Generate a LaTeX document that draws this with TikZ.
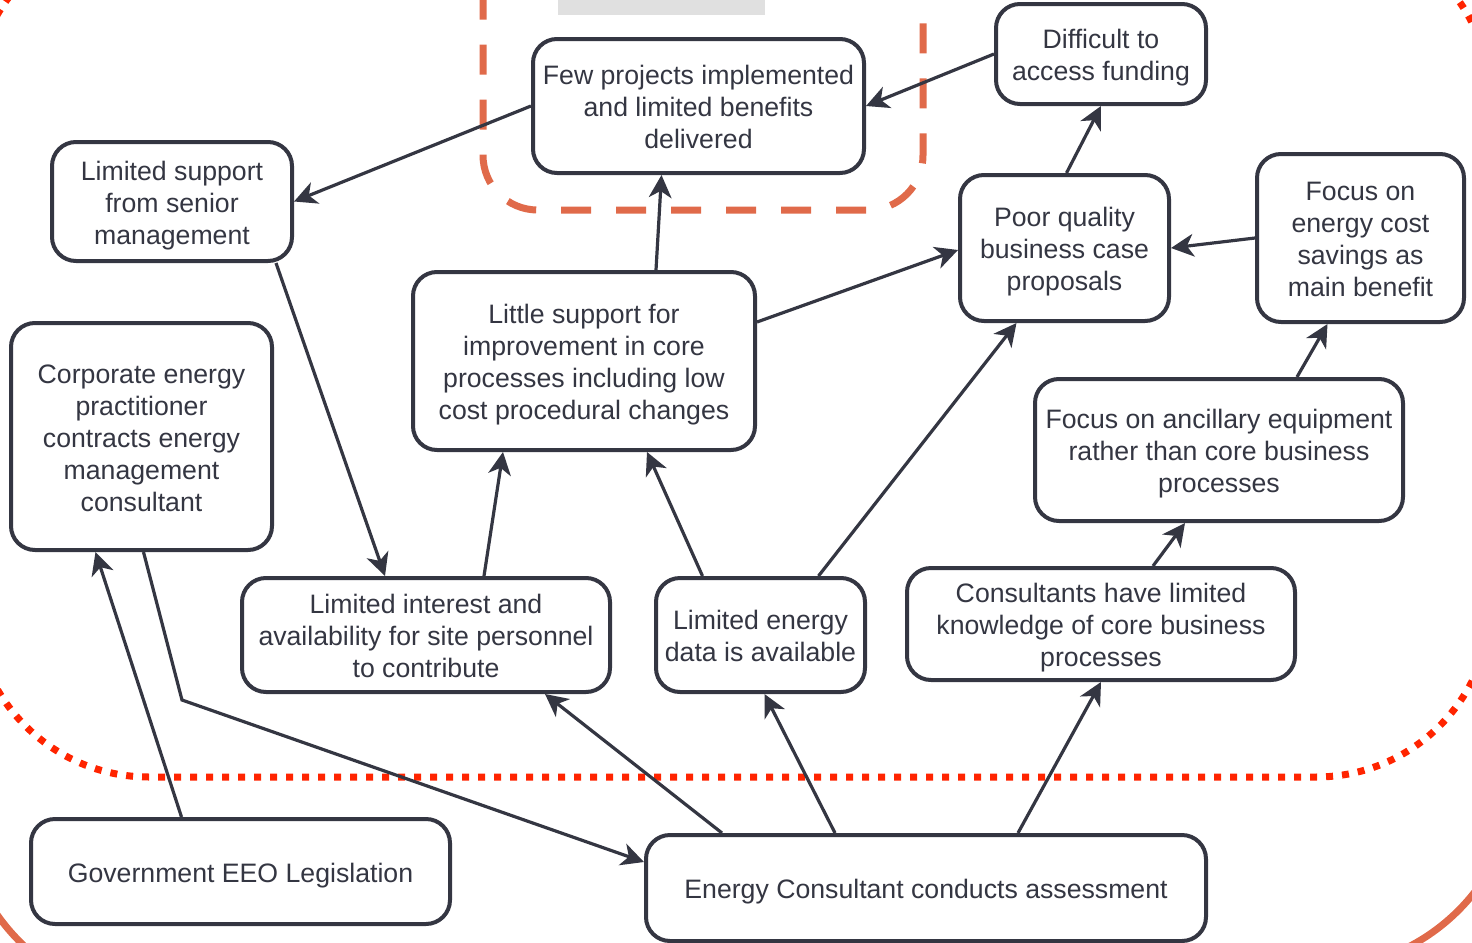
\documentclass[tikz,border=0pt]{standalone}
\usepackage{fontspec}
\setmainfont{Liberation Sans}
\usetikzlibrary{arrows.meta,calc}
\definecolor{ink}{RGB}{52,54,66}
\definecolor{coral}{RGB}{224,106,74}
\definecolor{signal}{RGB}{255,36,0}
\definecolor{band}{RGB}{224,224,224}
% centred stack of lines with a fixed row pitch
\newcommand\boxlines[1]{\begin{tabular}{@{}c@{}}\rule{0pt}{23.5pt}#1\end{tabular}}

\begin{document}
\begin{tikzpicture}[x=0.75pt,y=-0.75pt,
  box/.style={draw=ink, line width=3pt, rounded corners=18pt, fill=white,
    text=ink, inner sep=0pt, font=\fontsize{20}{24}\selectfont},
  link/.style={draw=ink, line width=2.4pt,
    -{Stealth[length=17pt,width=17pt,inset=5pt]}},
  dotline/.style={signal, line width=5.25pt, dash pattern=on 5.25pt off 6.75pt},
  dashline/.style={coral, line width=5.25pt, dash pattern=on 22.5pt off 18.75pt},
  rimline/.style={coral, line width=5.25pt},
]
\useasboundingbox (0,0) rectangle (1472,943);
\clip (0,0) rectangle (1472,943);

% background bands and outlines
\fill[band] (558,0) rectangle (765,15);
\draw[dotline, rounded corners=131.25pt] (-26,-73) rectangle (1491,777);
\draw[dashline, rounded corners=41pt] (483,-120) rectangle (923,210);
\draw[rimline] (-39,0) -- (-39,800)
  arc[start angle=180, end angle=90, radius=200]
  -- (1317,969)
  arc[start angle=90, end angle=0, radius=200]
  -- (1517,0);

% boxes
\node[box, minimum width=248.25pt, minimum height=100.5pt] (few) at (698.5,106)
  {\boxlines{Few projects implemented\\and limited benefits\\delivered}};
\node[box, minimum width=157.5pt, minimum height=75pt] (diff) at (1101,54)
  {\boxlines{Difficult to\\access funding}};
\node[box, minimum width=180pt, minimum height=89.25pt] (lsup) at (172,201.5)
  {\boxlines{Limited support\\from senior\\management}};
\node[box, minimum width=156.75pt, minimum height=109.5pt] (poor) at (1064.5,248)
  {\boxlines{Poor quality\\business case\\proposals}};
\node[box, minimum width=155.25pt, minimum height=126pt] (fecs) at (1360.5,238)
  {\boxlines{Focus on\\energy cost\\savings as\\main benefit}};
\node[box, minimum width=256.5pt, minimum height=133.5pt] (little) at (584,361)
  {\boxlines{Little support for\\improvement in core\\processes including low\\cost procedural changes}};
\node[box, minimum width=195.75pt, minimum height=170.25pt] (corp) at (141.5,436.5)
  {\boxlines{Corporate energy\\practitioner\\contracts energy\\management\\consultant}};
\node[box, minimum width=276pt, minimum height=106.5pt] (fanc) at (1219,450)
  {\boxlines{Focus on ancillary equipment\\rather than core business\\processes}};
\node[box, minimum width=276pt, minimum height=85.5pt] (lint) at (426,635)
  {\boxlines{Limited interest and\\availability for site personnel\\to contribute}};
\node[box, minimum width=156.75pt, minimum height=85.5pt] (ldata) at (760.5,635)
  {\boxlines{Limited energy\\data is available}};
\node[box, minimum width=291pt, minimum height=84pt] (cons) at (1101,624)
  {\boxlines{Consultants have limited\\knowledge of core business\\processes}};
\node[box, minimum width=314.25pt, minimum height=78.75pt] (gov) at (240.5,871.5)
  {\boxlines{Government EEO Legislation}};
\node[box, minimum width=420pt, minimum height=79.5pt] (ecca) at (926,888)
  {\boxlines{Energy Consultant conducts assessment}};

% causal links
\draw[link] (few.west) -- (lsup.east);
\draw[link] (diff.west) -- (few.east);
\draw[link] ($(little.north)+(72,0)$) -- ($(few.south)+(-37,0)$);
\draw[link] ($(little.east)+(0,-39)$) -- ($(poor.west)+(0,2)$);
\draw[link] ($(poor.north)+(2,0)$) -- (diff.south);
\draw[link] (fecs.west) -- (poor.east);
\draw[link] ($(fanc.north)+(78,0)$) -- ($(fecs.south)+(-33,0)$);
\draw[link] ($(lsup.south)+(104,0)$) -- ($(lint.north)+(-41,0)$);
\draw[link] ($(lint.north)+(58,0)$) -- ($(little.south)+(-81,0)$);
\draw[link] ($(ldata.north)+(-58,0)$) -- ($(little.south)+(63,0)$);
\draw[link] ($(ldata.north)+(58,0)$) -- ($(poor.south)+(-48,0)$);
\draw[link] ($(cons.north)+(52,0)$) -- ($(fanc.south)+(-34,0)$);
\draw[link] ($(ecca.north)+(-204,0)$) -- ($(lint.south)+(119,0)$);
\draw[link] ($(ecca.north)+(-91,0)$) -- ($(ldata.south)+(4,0)$);
\draw[link] ($(ecca.north)+(92,0)$) -- (cons.south);
\draw[link] ($(gov.north)+(-59,0)$) -- ($(corp.south)+(-46,0)$);
\coordinate (kink) at (182,700);
\draw[link] ($(corp.south)+(2,0)$) -- (kink) -- ($(ecca.west)+(0,-26)$);
\end{tikzpicture}
\end{document}
